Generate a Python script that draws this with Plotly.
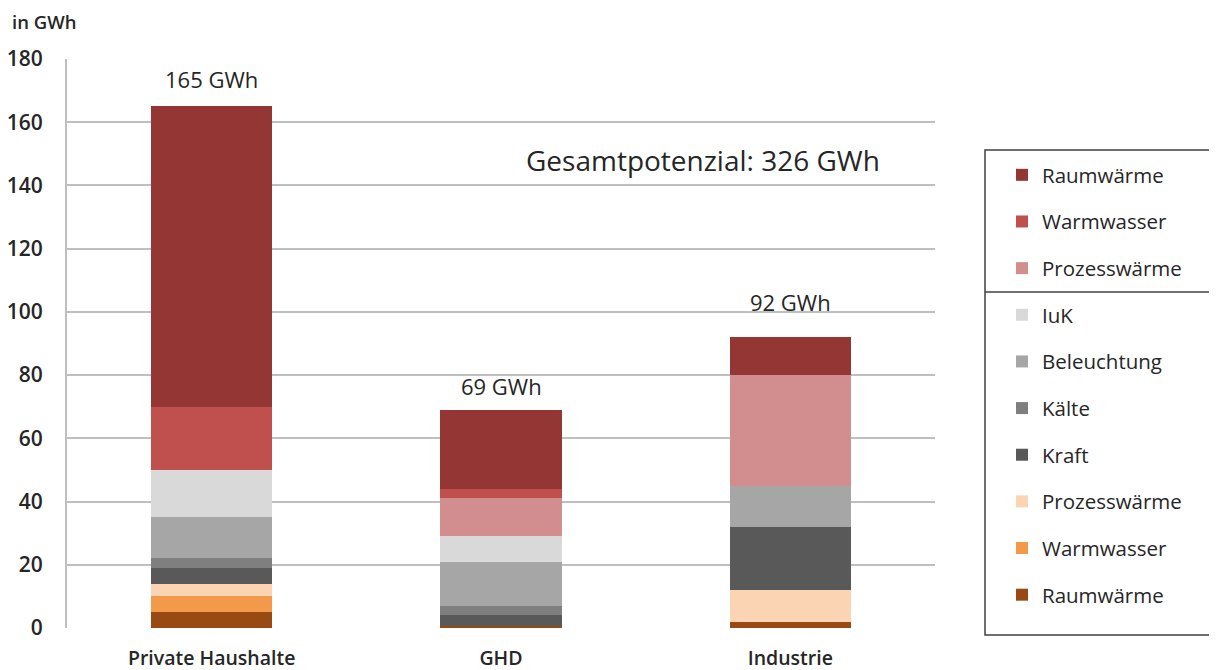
import plotly.graph_objects as go

categories = ["Private Haushalte", "GHD", "Industrie"]

# stacking order bottom -> top
series_names = ["Raumwärme", "Warmwasser", "Prozesswärme", "Kraft", "Kälte",
                "Beleuchtung", "IuK", "Prozesswärme", "Warmwasser", "Raumwärme"]
raumwaerme_strom = [5, 0.5, 2]
warmwasser_strom = [5, 0, 0]
prozesswaerme_strom = [4, 0, 10]
kraft = [5, 3.5, 20]
kaelte = [3, 3, 0]
beleuchtung = [13, 14, 13]
iuk = [15, 8, 0]
prozesswaerme_waerme = [0, 12, 35]
warmwasser_waerme = [20, 3, 0]
raumwaerme_waerme = [95, 25, 12]

series_values = [raumwaerme_strom, warmwasser_strom, prozesswaerme_strom, kraft, kaelte,
                 beleuchtung, iuk, prozesswaerme_waerme, warmwasser_waerme, raumwaerme_waerme]
colors = ["#984A12", "#F39A4A", "#FBD4B4", "#595959", "#7F7F7F",
          "#A6A6A6", "#D9D9D9", "#D28E8E", "#C0504D", "#943634"]

y_ticks = [0, 20, 40, 60, 80, 100, 120, 140, 160, 180]

FONT = "Open Sans"
TXT = "#262626"

# page body has an 8px margin: figure is drawn from (8, 8)
W, H = 1209, 662
PL, PR, PT, PB = 67 - 8, 935 - 8, 59 - 8, 628 - 8   # plot area in figure px
PW, PH = PR - PL, PB - PT


def px_x(x):  # reference screen x -> paper
    return (x - 67) / PW


def px_y(y):  # reference screen y -> paper
    return (628 - y) / PH


fig = go.Figure()
n = len(series_names)
for i, (name, vals, col) in enumerate(zip(series_names, series_values, colors)):
    fig.add_trace(go.Bar(
        x=categories, y=vals, name=name, marker=dict(color=col, line=dict(width=0)),
        legendgroup="g%d" % i, legendrank=(n - i) * 10, hoverinfo="name+y"))

totals = [sum(v[i] for v in series_values) for i in range(len(categories))]
label_shift = [10, 7, 18]
for c, t, s in zip(categories, totals, label_shift):
    fig.add_annotation(x=c, y=t, text="%g GWh" % round(t), showarrow=False,
                       yanchor="bottom", yshift=s, font=dict(size=22, color=TXT, family=FONT))

fig.add_annotation(x=px_x(703), y=px_y(160), xref="paper", yref="paper",
                   xanchor="center", yanchor="middle",
                   text="Gesamtpotenzial: %g GWh" % round(sum(totals)), showarrow=False,
                   font=dict(size=28, color=TXT, family=FONT))
fig.add_annotation(x=px_x(10), y=px_y(22), xref="paper", yref="paper", text="in GWh",
                   showarrow=False, xanchor="left", yanchor="middle",
                   font=dict(size=18.5, color=TXT, family=FONT, weight=600))

# legend frame and divider
fig.add_shape(type="rect", xref="paper", yref="paper",
              x0=px_x(985), x1=px_x(1213), y0=px_y(635), y1=px_y(150),
              line=dict(color="#404040", width=1.5), fillcolor="rgba(0,0,0,0)")
fig.add_shape(type="line", xref="paper", yref="paper",
              x0=px_x(985), x1=px_x(1213), y0=px_y(292), y1=px_y(292),
              line=dict(color="#404040", width=1.5))

fig.update_layout(
    width=W, height=H,
    margin=dict(l=PL, r=W - PR, t=PT, b=H - PB, autoexpand=False),
    barmode="stack", bargap=0.58,
    plot_bgcolor="white", paper_bgcolor="white",
    font=dict(family=FONT, color=TXT),
    showlegend=True,
    legend=dict(x=px_x(1002), y=px_y(155), xanchor="left", yanchor="top",
                traceorder="grouped", tracegroupgap=17,
                font=dict(size=20.5, color=TXT, family=FONT),
                bgcolor="rgba(0,0,0,0)", borderwidth=0),
    xaxis=dict(showgrid=False, showline=False, automargin=False,
               ticks="outside", ticklen=13, tickcolor="rgba(0,0,0,0)",
               tickfont=dict(size=19.5, color=TXT, family=FONT, weight=600)),
    yaxis=dict(range=[0, 180], tickvals=y_ticks, showgrid=True, gridcolor="#BFBFBF",
               gridwidth=2, zeroline=False, showline=True, linecolor="#BFBFBF", linewidth=2,
               automargin=False,
               ticks="outside", ticklen=18, tickcolor="rgba(0,0,0,0)",
               tickfont=dict(size=21, color=TXT, family=FONT, weight=600)),
)

fig.write_html("out.html")
